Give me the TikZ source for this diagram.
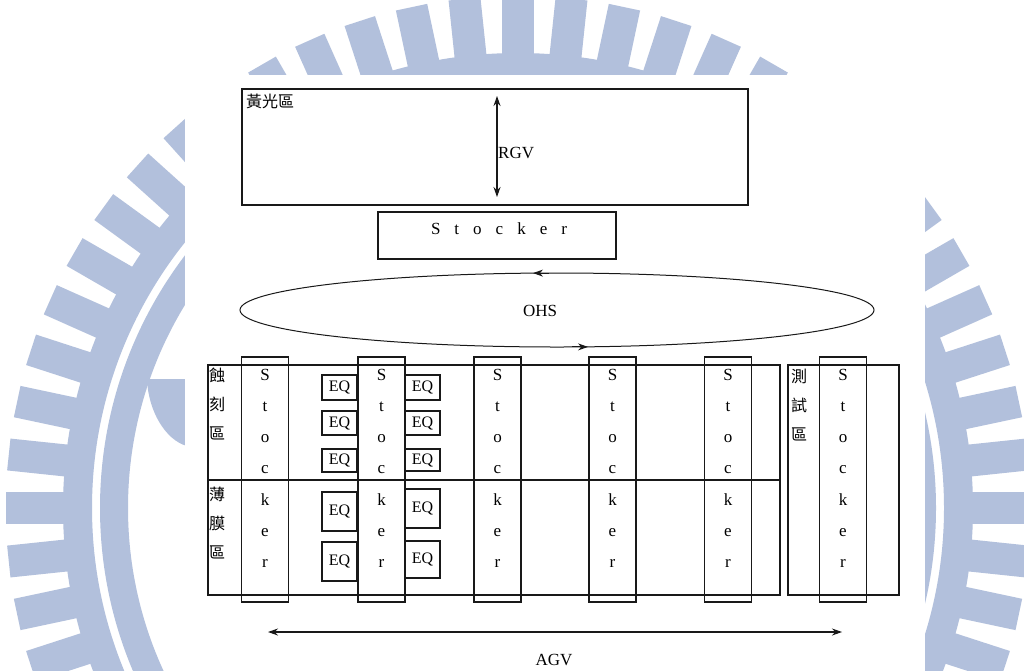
\documentclass[tikz,border=0pt]{standalone}
\usepackage{fontspec}
\setmainfont{Liberation Serif}
\newfontfamily\cjk{Noto Sans CJK TC}
\usetikzlibrary{arrows.meta,shapes.geometric}
\definecolor{wm}{RGB}{178,192,220}
\definecolor{ln}{RGB}{25,25,25}
\begin{document}
\begin{tikzpicture}[x=1pt,y=-1pt,
  box/.style={draw=ln, line width=1.1pt, inner sep=0pt, outer sep=0pt},
  txt/.style={font=\fontsize{17}{17}\selectfont, inner sep=0pt},
  eqtxt/.style={font=\fontsize{16}{16}\selectfont},
  cjklab/.style={font=\cjk\fontsize{16}{29}\selectfont, inner sep=0pt, align=center},
  dbl/.style={draw=ln, line width=1.1pt, {Stealth[length=10pt,width=7pt]}-{Stealth[length=10pt,width=7pt]}},
  onearrow/.style={draw=ln, line width=1pt, -{Stealth[length=10pt,width=7pt]}},
]
\useasboundingbox (0,0) rectangle (1024,670);
\clip (0,0) rectangle (1024,670);
\fill[white] (0,0) rectangle (1024,670);

% watermark
\begin{scope}[shift={(518,508)}]
  \fill[wm, even odd rule] (0,0) circle[radius=455] (0,0) circle[radius=426];
  \fill[wm, even odd rule] (0,0) circle[radius=418] (0,0) circle[radius=390];
  \foreach \k in {0,...,59} {
    \fill[wm, rotate=90+6*\k] (448,-16) rectangle (512,16);
  }
\end{scope}
\fill[wm] (147,379) -- (187,379) -- (187,446) .. controls (165,440) and (148,410) .. cycle;
\fill[white] (185,75) rectangle (925,680);

% top area
\node[box, minimum width=506, minimum height=116] (huang) at (495,147) {};
\node[cjklab, anchor=north west] (huanglab) at (246,94) {黃光區};
\coordinate (rgvT) at (497,96);
\coordinate (rgvB) at (497,197);
\draw[dbl] (rgvT) -- (rgvB);
\node[txt, anchor=west] (rgv) at (498,153) {RGV};

\node[box, minimum width=238, minimum height=47] (stk0) at (497,235.5) {};
\node[txt] (stk0lab) at (499,229) {S\hspace{14pt}t\hspace{14pt}o\hspace{14pt}c\hspace{14pt}k\hspace{14pt}e\hspace{14pt}r};

% OHS loop
\node[draw=ln, line width=1pt, ellipse, minimum width=634, minimum height=74, inner sep=0pt] (ohs) at (557,310) {};
\node[txt] (ohslab) at (540,311) {OHS};
\coordinate (oa1) at (549,273.1);
\coordinate (oa2) at (533,273.1);
\coordinate (ob1) at (572,346.9);
\coordinate (ob2) at (588,346.9);
\draw[onearrow] (oa1) -- (oa2);
\draw[onearrow] (ob1) -- (ob2);

% bay area
\node[box, minimum width=572, minimum height=230] (main) at (494,480) {};
\draw[box] (main.west) -- (main.east);
\node[box, minimum width=111, minimum height=230] (test) at (843.5,480) {};

\node[cjklab] (etch) at (217,404) {蝕\\刻\\區};
\node[cjklab] (film) at (217,523) {薄\\膜\\區};
\node[cjklab] (testlab) at (799,405) {測\\試\\區};

\foreach \x [count=\j] in {265,381.5,497.5,612.5,728,843} {
  \node[box, minimum width=47, minimum height=245] (col\j) at (\x,479.5) {};
  \foreach \L [count=\i] in {S,t,o,c,k,e,r} {
    \node[txt, anchor=base] (col\j-\i) at (\x,{380+31.3*(\i-1)}) {\L};
  }
}

% EQ boxes
\foreach \y/\h [count=\i] in {387.5/25, 423/24, 460.5/23, 511.5/39, 561.5/39} {
  \node[box, eqtxt, minimum width=35, minimum height=\h] (eqL\i) at (339.5,\y) {EQ};
}
\foreach \y/\h [count=\i] in {387.5/25, 423/24, 460/22, 508.5/39, 559.5/37} {
  \node[box, eqtxt, minimum width=35, minimum height=\h] (eqR\i) at (422.5,\y) {EQ};
}

% AGV
\coordinate (agvL) at (268,632);
\coordinate (agvR) at (842,632);
\draw[dbl] (agvL) -- (agvR);
\node[txt] (agv) at (554,660) {AGV};
\end{tikzpicture}
\end{document}
